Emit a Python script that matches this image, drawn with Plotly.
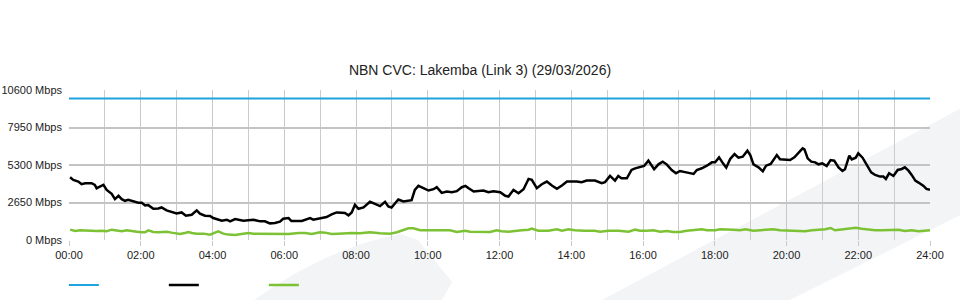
import plotly.graph_objects as go

# ---- data ----
title_text = "NBN CVC: Lakemba (Link 3) (29/03/2026)"
x_tick_hours = [0, 2, 4, 6, 8, 10, 12, 14, 16, 18, 20, 22, 24]
x_tick_labels = ["00:00", "02:00", "04:00", "06:00", "08:00", "10:00", "12:00",
                 "14:00", "16:00", "18:00", "20:00", "22:00", "24:00"]
y_tick_values = [0, 2650, 5300, 7950, 10600]
y_tick_labels = ["0 Mbps", "2650 Mbps", "5300 Mbps", "7950 Mbps", "10600 Mbps"]

capacity_hours = [0, 24]
capacity_mbps = [10000, 10000]

download_hours = [
    0.03, 0.12, 0.26, 0.35, 0.45, 0.63, 0.72, 0.77, 0.86, 0.96, 1.05, 1.19, 1.28, 1.38,
    1.47, 1.56, 1.65, 1.79, 1.93, 2.03, 2.12, 2.21, 2.35, 2.49, 2.58, 2.72, 2.86, 3.00,
    3.14, 3.26, 3.42, 3.56, 3.65, 3.79, 3.93, 4.02, 4.26, 4.40, 4.49, 4.63, 4.86, 5.00,
    5.14, 5.33, 5.46, 5.60, 5.74, 5.88, 5.97, 6.12, 6.20, 6.49, 6.72, 6.81, 6.95, 7.18,
    7.32, 7.46, 7.60, 7.69, 7.79, 7.88, 7.97, 8.07, 8.21, 8.39, 8.53, 8.67, 8.81, 8.90,
    8.99, 9.18, 9.32, 9.55, 9.64, 9.74, 9.88, 10.02, 10.16, 10.25, 10.39, 10.53, 10.67,
    10.81, 10.95, 11.05, 11.14, 11.28, 11.55, 11.69, 11.83, 12.02, 12.16, 12.25, 12.39,
    12.53, 12.67, 12.81, 12.90, 13.04, 13.18, 13.32, 13.46, 13.60, 13.74, 13.88, 14.15,
    14.29, 14.43, 14.66, 14.85, 14.94, 15.08, 15.22, 15.31, 15.40, 15.55, 15.68, 15.78,
    15.96, 16.03, 16.15, 16.31, 16.43, 16.55, 16.66, 16.80, 16.92, 17.03, 17.24, 17.41,
    17.50, 17.64, 17.78, 17.92, 18.01, 18.12, 18.23, 18.32, 18.43, 18.55, 18.66, 18.78,
    18.91, 18.99, 19.08, 19.22, 19.34, 19.43, 19.56, 19.73, 19.82, 19.96, 20.10, 20.22,
    20.33, 20.45, 20.50, 20.59, 20.69, 20.80, 20.89, 21.00, 21.12, 21.23, 21.33, 21.45,
    21.56, 21.63, 21.75, 21.82, 21.93, 22.00, 22.12, 22.24, 22.36, 22.47, 22.61, 22.70,
    22.77, 22.86, 22.98, 23.10, 23.21, 23.30, 23.40, 23.49, 23.59, 23.68, 23.82, 23.90,
    24.00]
download_mbps = [
    4433, 4245, 4128, 3941, 4011, 4011, 3894, 3660, 3777, 3894, 3543, 3262, 2887, 3121,
    2887, 2770, 2840, 2723, 2629, 2629, 2441, 2465, 2207, 2231, 2301, 2090, 1973, 1879,
    1949, 1715, 1785, 2090, 1856, 1715, 1692, 1551, 1364, 1434, 1317, 1481, 1364, 1387,
    1434, 1317, 1317, 1176, 1200, 1293, 1504, 1551, 1340, 1340, 1551, 1434, 1504, 1621,
    1809, 1949, 1926, 1903, 1738, 1949, 2488, 2207, 2301, 2699, 2559, 2395, 2699, 2371,
    2301, 2863, 2723, 2816, 3543, 3824, 3660, 3496, 3590, 3730, 3332, 3426, 3379,
    3449, 3730, 3824, 3660, 3426, 3496, 3379, 3449, 3379, 3121, 3074, 3543,
    3309, 3590, 4316, 4246, 3660, 3941, 4128, 3847, 3613, 3847, 4128, 4128,
    4082, 4199, 4199, 4011, 4082, 4527, 4199, 4527, 4363, 4363, 4949, 5066,
    5183, 5230, 5605, 4996, 5347, 5535, 5347, 4949, 4714, 4878, 4761, 4668,
    4949, 5066, 5253, 5488, 5488, 5839, 5418, 5113, 5722, 6073, 5815, 5886,
    6307, 6003, 5347, 5136, 4855, 5253, 5371, 6003, 5699, 5699, 5652, 5839,
    6120, 6472, 6401, 5769, 5535, 5488, 5347, 5418, 5230, 5652, 5605, 5136,
    4878, 4996, 5957, 5699, 5815, 6120, 5815, 5347, 4785, 4597, 4480, 4480,
    4316, 4714, 4527, 4949, 5019, 5136, 4902, 4597, 4199, 4058, 3824, 3613,
    3543]

upload_hours = [
    0.03, 0.17, 0.31, 0.45, 0.59, 0.77, 0.91, 1.05, 1.19, 1.33, 1.47, 1.61, 1.75, 1.89,
    2.03, 2.12, 2.21, 2.35, 2.49, 2.63, 2.72, 2.86, 3.00, 3.09, 3.23, 3.33, 3.42, 3.56,
    3.75, 3.93, 4.16, 4.30, 4.44, 4.63, 4.81, 5.00, 5.14, 5.65, 6.12, 6.40, 6.58, 6.77,
    7.00, 7.14, 7.32, 7.51, 7.69, 7.88, 8.11, 8.39, 8.67, 8.95, 9.14, 9.32, 9.46, 9.60,
    9.79, 10.07, 10.34, 10.62, 10.81, 11.04, 11.18, 11.46, 11.74, 11.92, 12.06, 12.25,
    12.43, 12.62, 12.81, 12.90, 13.08, 13.36, 13.60, 13.74, 13.92, 14.10, 14.36, 14.65,
    14.80, 15.04, 15.32, 15.60, 15.78, 15.92, 16.11, 16.29, 16.48, 16.66, 16.85, 17.03,
    17.22, 17.41, 17.64, 17.78, 18.01, 18.15, 18.33, 18.52, 18.71, 18.85, 19.08, 19.27,
    19.45, 19.63, 19.82, 20.01, 20.15, 20.33, 20.52, 20.71, 20.89, 21.08, 21.23, 21.35,
    21.59, 21.78, 21.93, 22.10, 22.29, 22.47, 22.66, 22.94, 23.12, 23.30, 23.49, 23.68,
    23.87, 24.00]
upload_mbps = [
    731, 637, 684, 661, 684, 637, 661, 614, 731, 684, 614, 684, 614, 590,
    544, 544, 684, 567, 544, 567, 590, 520, 473, 426, 497, 567, 497, 450,
    450, 380, 614, 450, 380, 356, 426, 497, 450, 426, 426, 497, 497, 426,
    544, 520, 426, 450, 497, 497, 473, 544, 473, 450, 544, 684, 825, 825,
    684, 684, 684, 684, 567, 661, 590, 590, 567, 684, 614, 590,
    661, 684, 731, 801, 661, 661, 754, 661, 754, 684, 661, 661,
    590, 661, 661, 590, 731, 661, 661, 684, 590, 637, 567, 567,
    661, 684, 754, 684, 684, 754, 754, 731, 684, 754, 661, 684,
    731, 754, 684, 661, 637, 661, 614, 684, 731, 754, 848, 684,
    754, 801, 871, 801, 731, 684, 684, 684, 731, 637, 684, 614,
    661, 684]

minor_grid_hours = [1, 3, 5, 7, 9, 11, 13, 15, 17, 19, 21, 23]

# ---- figure ----
FONT = "Liberation Sans, Arial, Helvetica, sans-serif"
fig = go.Figure()
fig.add_trace(go.Scatter(x=capacity_hours, y=capacity_mbps, mode="lines", name="",
                         line=dict(color="#1ea3de", width=2), hoverinfo="y"))
fig.add_trace(go.Scatter(x=download_hours, y=download_mbps, mode="lines", name="",
                         line=dict(color="#000000", width=2.5), hoverinfo="y"))
fig.add_trace(go.Scatter(x=upload_hours, y=upload_mbps, mode="lines", name="",
                         line=dict(color="#7cc234", width=2.5), hoverinfo="y"))

# light background watermark
wm = "#f3f4f6"
fig.add_shape(type="path", xref="paper", yref="paper", layer="below",
              path="M 0.619 -0.40 L 1.04 0.89 L 1.04 0.18 L 0.837 -0.40 Z",
              fillcolor=wm, line=dict(width=0))
fig.add_shape(type="path", xref="paper", yref="paper", layer="below",
              path="M 0.215 -0.40 Q 0.30 -0.05 0.385 0.04 L 0.405 0.0 L 0.445 -0.28 L 0.433 -0.40 Z",
              fillcolor=wm, line=dict(width=0))

fig.update_layout(
    width=960, height=300,
    margin=dict(l=69, r=30, t=90, b=60, autoexpand=False),
    paper_bgcolor="white", plot_bgcolor="rgba(0,0,0,0)",
    font=dict(family=FONT, size=11, color="#222222"),
    title=dict(text=title_text, x=0.5, xref="container", xanchor="center",
               y=1 - 70 / 300, yref="container", yanchor="middle",
               font=dict(family=FONT, size=14, color="#222222")),
    showlegend=True,
    legend=dict(orientation="h", x=-0.006, xanchor="left",
                y=1 - 285 / 300, yref="container", yanchor="middle",
                entrywidth=55, entrywidthmode="pixels", bgcolor="rgba(0,0,0,0)",
                font=dict(size=11), itemclick=False, itemdoubleclick=False),
    hovermode="x",
)
fig.update_xaxes(range=[0, 24], tickmode="array", tickvals=x_tick_hours, ticktext=x_tick_labels,
                 showgrid=True, gridcolor="#c8c8c8", gridwidth=1,
                 ticks="outside", ticklen=5, tickcolor="#c8c8c8",
                 minor=dict(tickmode="array", tickvals=minor_grid_hours, showgrid=True,
                            gridcolor="#cccccc", gridwidth=1),
                 showline=False, zeroline=False, fixedrange=True, automargin=False)
fig.update_yaxes(range=[0, 10600], tickmode="array", tickvals=y_tick_values, ticktext=y_tick_labels,
                 showgrid=True, gridcolor="#c4c4c4", gridwidth=2,
                 showline=False, zeroline=False, ticks="", ticklabelstandoff=6,
                 fixedrange=True, automargin=False)

fig.write_html("out.html")
